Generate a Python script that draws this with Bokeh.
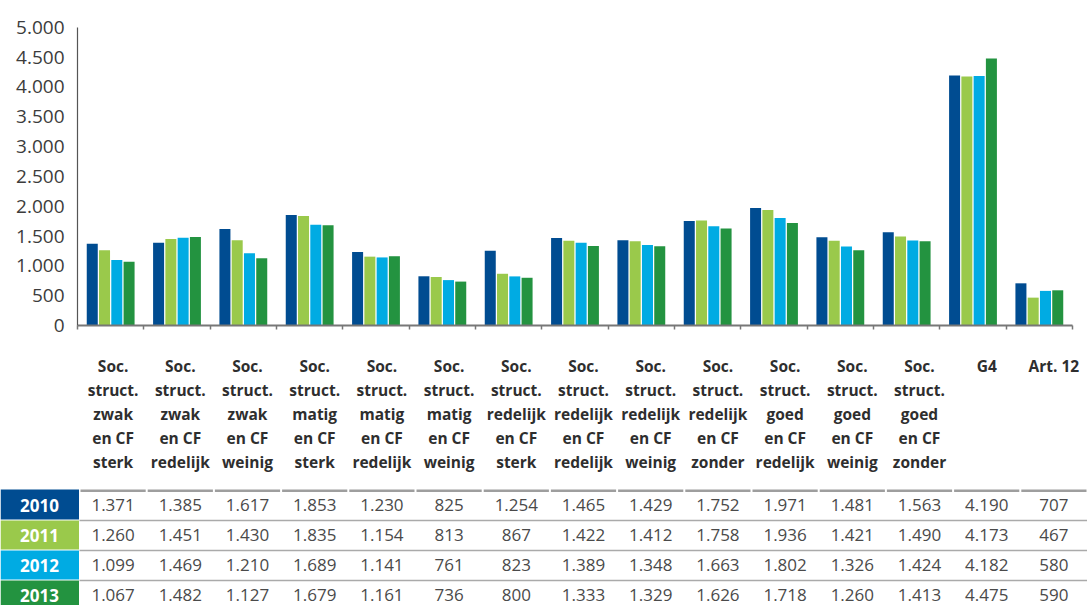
from bokeh.plotting import figure
from bokeh.models import ColumnDataSource, Range1d, FixedTicker, LinearAxis
from bokeh.transform import dodge
from bokeh.core.properties import value
from bokeh.embed import file_html
from bokeh.resources import INLINE

# --- data -------------------------------------------------------------
categories = [
    ["Soc.", "struct.", "zwak", "en CF", "sterk"],
    ["Soc.", "struct.", "zwak", "en CF", "redelijk"],
    ["Soc.", "struct.", "zwak", "en CF", "weinig"],
    ["Soc.", "struct.", "matig", "en CF", "sterk"],
    ["Soc.", "struct.", "matig", "en CF", "redelijk"],
    ["Soc.", "struct.", "matig", "en CF", "weinig"],
    ["Soc.", "struct.", "redelijk", "en CF", "sterk"],
    ["Soc.", "struct.", "redelijk", "en CF", "redelijk"],
    ["Soc.", "struct.", "redelijk", "en CF", "weinig"],
    ["Soc.", "struct.", "redelijk", "en CF", "zonder"],
    ["Soc.", "struct.", "goed", "en CF", "redelijk"],
    ["Soc.", "struct.", "goed", "en CF", "weinig"],
    ["Soc.", "struct.", "goed", "en CF", "zonder"],
    ["G4"],
    ["Art. 12"],
]
years = ["2010", "2011", "2012", "2013"]
values_2010 = [1371, 1385, 1617, 1853, 1230, 825, 1254, 1465, 1429, 1752, 1971, 1481, 1563, 4190, 707]
values_2011 = [1260, 1451, 1430, 1835, 1154, 813, 867, 1422, 1412, 1758, 1936, 1421, 1490, 4173, 467]
values_2012 = [1099, 1469, 1210, 1689, 1141, 761, 823, 1389, 1348, 1663, 1802, 1326, 1424, 4182, 580]
values_2013 = [1067, 1482, 1127, 1679, 1161, 736, 800, 1333, 1329, 1626, 1718, 1260, 1413, 4475, 590]
year_colors = ["#004C91", "#9AC94B", "#00ABE3", "#239340"]
y_ticks = [0, 500, 1000, 1500, 2000, 2500, 3000, 3500, 4000, 4500, 5000]

series = [values_2010, values_2011, values_2012, values_2013]


def nl(v):
    """Dutch thousands separator."""
    return f"{v:,}".replace(",", ".")


FONT = "Open Sans"
W, H = 1087, 605
n = len(categories)

# page geometry (px)
CHART_L, CHART_R = 77, 1072        # category axis extent
ZERO_Y, TOP_Y = 325, 26.7          # value 0 and value 5000
COLW, TABLE_L = 67.2, 79           # table column width / first column edge
ROW_H, TABLE_TOP = 30, 489         # table row pitch / header rule

# One canvas: the main ranges address the table (column units, page rows);
# the bar chart lives on its own pair of extra ranges.
p = figure(width=W, height=H,
           x_range=Range1d(-TABLE_L / COLW, (W - TABLE_L) / COLW),
           y_range=Range1d(H, 0),
           x_axis_type=None, y_axis_type=None, min_border=0,
           output_backend="svg", toolbar_location=None,
           outline_line_color=None, background_fill_color="white",
           border_fill_color="white")

cw = (CHART_R - CHART_L) / n
ppu = (ZERO_Y - TOP_Y) / y_ticks[-1]
p.extra_x_ranges = {"cat": Range1d(-CHART_L / cw, n + (W - CHART_R) / cw)}
p.extra_y_ranges = {"val": Range1d((ZERO_Y - H) / ppu, ZERO_Y / ppu)}

# --- bars ---------------------------------------------------------------
bar_src = ColumnDataSource({"x": [i + 0.5 for i in range(n)],
                            **{y: s for y, s in zip(years, series)}})
step, bar_w = 0.185, 0.166
for k, (yr, col) in enumerate(zip(years, year_colors)):
    p.vbar(x=dodge("x", (k - 1.5) * step), top=yr, bottom=0, width=bar_w,
           source=bar_src, fill_color=col, line_color=None,
           x_range_name="cat", y_range_name="val")

# --- axes ---------------------------------------------------------------
yax = LinearAxis(x_range_name="cat", y_range_name="val", fixed_location=0,
                 bounds=(0, y_ticks[-1]), ticker=FixedTicker(ticks=y_ticks))
yax.major_label_overrides = {t: nl(t) for t in y_ticks}
yax.major_label_text_font = FONT
yax.major_label_text_font_size = "19px"
yax.major_label_text_color = "#3c3c3c"
yax.major_label_standoff = 13
yax.major_tick_out = 0
yax.major_tick_in = 0
yax.minor_tick_out = 0
yax.minor_tick_in = 0
yax.axis_line_color = "#555555"
yax.axis_line_width = 1.2
p.add_layout(yax, "left")

xax = LinearAxis(x_range_name="cat", y_range_name="val", fixed_location=0,
                 bounds=(0, n), ticker=FixedTicker(ticks=list(range(n + 1))))
xax.major_label_overrides = {i: "" for i in range(n + 1)}
xax.major_label_standoff = 0
xax.major_tick_out = 4
xax.major_tick_in = 0
xax.major_tick_line_color = "#777777"
xax.major_tick_line_width = 1.5
xax.minor_tick_out = 0
xax.minor_tick_in = 0
xax.axis_line_color = "#777777"
xax.axis_line_width = 2
p.add_layout(xax, "below")

# --- category labels ----------------------------------------------------
lab = {"x": [], "y": [], "text": []}
for i, lines in enumerate(categories):
    for j, line in enumerate(lines):
        lab["x"].append(i + 0.5)
        lab["y"].append(365 + 24 * j)
        lab["text"].append(line)
p.text(x="x", y="y", text="text", source=ColumnDataSource(lab),
       text_align="center", text_baseline="middle", text_font=value(FONT),
       text_font_style="bold", text_font_size="15.5px", text_color="#2e2e2e")

# --- data table ---------------------------------------------------------
gap = 1 / COLW
p.segment(x0=[i + gap for i in range(n)], x1=[i + 1 - gap for i in range(n)],
          y0=[TABLE_TOP + 1.2] * n, y1=[TABLE_TOP + 1.2] * n,
          line_color="#9e9e9e", line_width=2.5)

row_top = [TABLE_TOP + ROW_H * r for r in range(len(years))]
p.segment(x0=[0] * 3, x1=[n] * 3, y0=[r + 1 for r in row_top[1:]],
          y1=[r + 1 for r in row_top[1:]], line_color="#aaaaaa", line_width=1.5)

p.quad(left=[-TABLE_L / COLW] * 4, right=[-0.5 / COLW] * 4,
       top=[r + (1 if k else 0) for k, r in enumerate(row_top)],
       bottom=[r + ROW_H for r in row_top],
       fill_color=year_colors, line_color=None)
p.text(x=[(39 - TABLE_L) / COLW] * 4, y=[r + 15.5 for r in row_top], text=years,
       text_align="center", text_baseline="middle", text_font=value(FONT),
       text_font_style="bold", text_font_size="17px", text_color="white")

cells = {"x": [], "y": [], "text": []}
for r, s in enumerate(series):
    for i, v in enumerate(s):
        cells["x"].append(i + 0.5)
        cells["y"].append(row_top[r] + 15.5)
        cells["text"].append(nl(v))
p.text(x="x", y="y", text="text", source=ColumnDataSource(cells),
       text_align="center", text_baseline="middle", text_font=value(FONT),
       text_font_size="17px", text_color="#4a4a4a")

open("out.html", "w").write(file_html(p, INLINE))
